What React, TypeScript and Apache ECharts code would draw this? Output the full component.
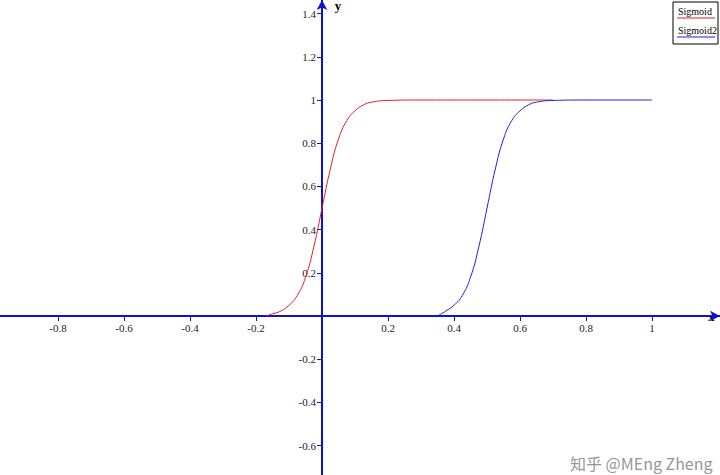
import React, { useEffect, useRef } from "react";
import * as echarts from "echarts";

const sigmoidX = [-0.17, -0.15, -0.125, -0.1, -0.075, -0.05, -0.025, 0, 0.025, 0.05, 0.075, 0.1, 0.125, 0.15, 0.2, 0.3, 0.5, 0.7];
const sigmoidY = [0, 0.01, 0.023, 0.05, 0.095, 0.18, 0.32, 0.5, 0.68, 0.82, 0.905, 0.95, 0.977, 0.99, 0.998, 1, 1, 1];
const sigmoid2X = [0.35, 0.375, 0.4, 0.425, 0.45, 0.475, 0.5, 0.525, 0.55, 0.575, 0.6, 0.625, 0.65, 0.7, 0.8, 1];
const sigmoid2Y = [0, 0.023, 0.05, 0.095, 0.18, 0.32, 0.5, 0.68, 0.82, 0.905, 0.95, 0.977, 0.99, 0.998, 1, 1];
const xTicks = [-0.8, -0.6, -0.4, -0.2, 0.2, 0.4, 0.6, 0.8, 1];
const yTicks = [-0.6, -0.4, -0.2, 0.2, 0.4, 0.6, 0.8, 1, 1.2, 1.4];

const font = "'Liberation Serif', 'DejaVu Serif', serif";
const axisBlue = "#1010d0";

const App: React.FC = () => {
  const chartRef = useRef<HTMLDivElement>(null);

  useEffect(() => {
    if (!chartRef.current) return;
    document.body.style.margin = "0";
    const chart = echarts.init(chartRef.current, undefined, { renderer: "svg" });

    const axisCommon = {
      type: "value" as const,
      splitLine: { show: false },
      axisLine: {
        onZero: false,
        symbol: ["none", "arrow"],
        symbolSize: [8, 10],
        lineStyle: { color: axisBlue, width: 2 },
      },
      axisTick: { show: true, length: 5, lineStyle: { color: axisBlue, width: 1 } },
      axisLabel: { color: "#222", fontFamily: font, fontSize: 11 },
      nameTextStyle: { color: "#000", fontFamily: font, fontSize: 13, fontWeight: "bold" as const },
    };

    chart.setOption({
      animation: false,
      grid: { left: 0, right: 0, top: 0, bottom: 0, containLabel: false, outerBoundsMode: "none" },
      xAxis: {
        ...axisCommon,
        position: "bottom",
        offset: -159,
        min: -0.976,
        max: 1.206,
        name: "x",
        nameLocation: "end",
        nameGap: -12,
        nameTextStyle: { ...axisCommon.nameTextStyle, padding: [0, 0, 22, 0] },
        axisTick: { ...axisCommon.axisTick, customValues: xTicks },
        axisLabel: { ...axisCommon.axisLabel, customValues: xTicks, margin: 6 },
      },
      yAxis: {
        ...axisCommon,
        position: "left",
        offset: -322,
        min: -0.736,
        max: 1.463,
        name: "y",
        nameLocation: "end",
        nameGap: -12,
        nameTextStyle: { ...axisCommon.nameTextStyle, padding: [0, 0, 0, 32] },
        axisTick: { ...axisCommon.axisTick, customValues: yTicks },
        axisLabel: { ...axisCommon.axisLabel, customValues: yTicks, margin: 6 },
      },
      series: [
        {
          name: "Sigmoid",
          type: "line",
          smooth: true,
          showSymbol: false,
          data: sigmoidX.map((x, i) => [x, sigmoidY[i]]),
          lineStyle: { color: "#e02020", width: 1 },
        },
        {
          name: "Sigmoid2",
          type: "line",
          smooth: true,
          showSymbol: false,
          data: sigmoid2X.map((x, i) => [x, sigmoid2Y[i]]),
          lineStyle: { color: "#2020e0", width: 1 },
        },
      ],
      graphic: [
        { type: "rect", shape: { x: 673, y: 2, width: 45, height: 42 }, style: { fill: "#fff", stroke: "#000", lineWidth: 1 } },
        { type: "text", x: 678, y: 6, style: { text: "Sigmoid", font: `10px ${font}`, fill: "#000" } },
        { type: "line", shape: { x1: 677, y1: 18, x2: 715, y2: 18 }, style: { stroke: "#e02020", lineWidth: 1 } },
        { type: "text", x: 678, y: 25, style: { text: "Sigmoid2", font: `10px ${font}`, fill: "#000" } },
        { type: "line", shape: { x1: 677, y1: 37, x2: 715, y2: 37 }, style: { stroke: "#2020e0", lineWidth: 1 } },
        { type: "text", x: 570, y: 455, style: { text: "知乎 @MEng Zheng", font: "16px 'Noto Sans CJK SC', sans-serif", fill: "rgba(120,120,120,0.8)" } },
      ],
    });

    return () => {
      chart.dispose();
    };
  }, []);

  return <div ref={chartRef} style={{ width: "720px", height: "475px" }} />;
};

export default App;
